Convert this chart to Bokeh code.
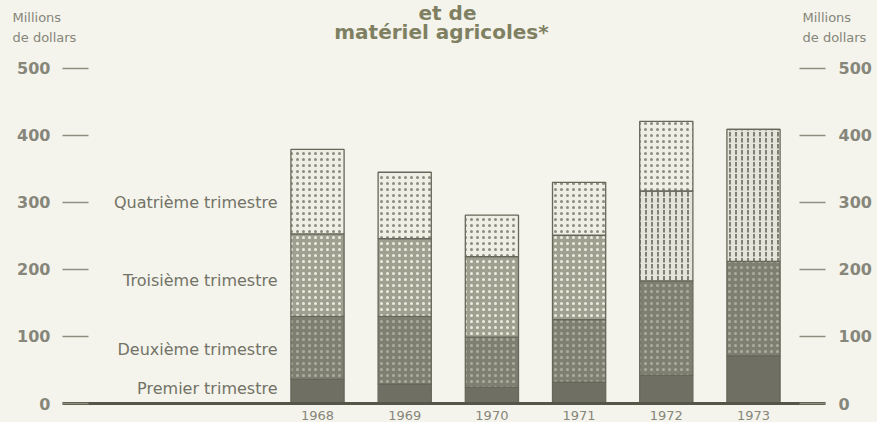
import numpy as np
from bokeh.plotting import figure
from bokeh.layouts import column
from bokeh.models import ColumnDataSource, Range1d, FixedTicker, Label, LinearAxis
from bokeh.core.properties import value
from bokeh.embed import file_html
from bokeh.resources import INLINE

# ---- data (millions of dollars, by quarter) ----
years = [1968, 1969, 1970, 1971, 1972, 1973]
q1 = [36, 29, 24, 32, 42, 71]
q2 = [94, 101, 75, 93, 141, 141]
q3 = [123, 116, 120, 126, 134, 197]
q4 = [126, 99, 62, 79, 104, 0]
y_ticks = [0, 100, 200, 300, 400, 500]
quarter_labels = ["Premier trimestre", "Deuxième trimestre",
                  "Troisième trimestre", "Quatrième trimestre"]
title_lines = ["et de", "matériel agricoles*"]
unit_lines = ["Millions", "de dollars"]

# ---- style ----
BG = "#f4f4ec"
TXT = "#86867a"
TITLE = "#7f8062"
EDGE = "#66665a"
FONT = "DejaVu Sans"

W = 877
TOP_H = 48
H = 422 - TOP_H
LEFT, RIGHT, BOTTOM = 62, 52, 16
PX_PER_UNIT = 0.676
PX_PER_YEAR = 87.2
frame_w = W - LEFT - RIGHT
frame_h = H - BOTTOM
x0 = 1968 - (317 - LEFT) / PX_PER_YEAR
x1 = x0 + frame_w / PX_PER_YEAR
y1 = frame_h / PX_PER_UNIT

# ---- header strip (title and unit captions) ----
top = figure(width=W, height=TOP_H, output_backend="svg", toolbar_location=None,
             x_range=Range1d(0, W), y_range=Range1d(TOP_H, 0),
             min_border=0, x_axis_location=None, y_axis_location=None)
top.frame_align = False
top.background_fill_color = BG
top.border_fill_color = BG
top.outline_line_color = None
top.grid.visible = False
top.text(x=[447], y=[0], text=[title_lines[0]], text_align="center",
         text_baseline="top", text_font=value(FONT), text_font_style="bold",
         text_font_size="20px", text_color=TITLE)
top.text(x=[441], y=[19], text=[title_lines[1]], text_align="center",
         text_baseline="top", text_font=value(FONT), text_font_style="bold",
         text_font_size="20px", text_color=TITLE)
top.text(x=[12, 802], y=[9, 9], text=[unit_lines[0]] * 2, text_align="left",
         text_baseline="top", text_font=value(FONT),
         text_font_size="13px", text_color=TXT)
top.text(x=[12, 802], y=[29, 29], text=[unit_lines[1]] * 2, text_align="left",
         text_baseline="top", text_font=value(FONT),
         text_font_size="13px", text_color=TXT)

# ---- main chart ----
p = figure(width=W, height=H, output_backend="svg", toolbar_location=None,
           x_range=Range1d(x0, x1), y_range=Range1d(0, y1),
           min_border_left=LEFT, min_border_right=RIGHT,
           min_border_top=0, min_border_bottom=BOTTOM,
           y_axis_location=None)
p.frame_align = False
p.background_fill_color = BG
p.border_fill_color = BG
p.outline_line_color = None
p.grid.visible = False


def fx(px):
    return x0 + (px - LEFT) / PX_PER_YEAR


xa = p.xaxis[0]
xa.ticker = FixedTicker(ticks=years)
xa.axis_line_color = "#55554a"
xa.axis_line_width = 3
xa.major_tick_line_color = None
xa.minor_tick_line_color = None
xa.major_label_standoff = 1
xa.major_label_text_font = FONT
xa.major_label_text_font_size = "13px"
xa.major_label_text_color = TXT

for side in ("left", "right"):
    ax = LinearAxis(ticker=FixedTicker(ticks=y_ticks))
    ax.axis_line_color = None
    ax.major_tick_in = 26
    ax.major_tick_out = 0
    ax.major_tick_line_color = "#8e8e80"
    ax.major_tick_line_width = 1.5
    ax.minor_tick_line_color = None
    ax.major_label_standoff = 12 if side == "left" else 13
    ax.major_label_text_font = FONT
    ax.major_label_text_font_style = "bold"
    ax.major_label_text_font_size = "16px"
    ax.major_label_text_color = TXT
    p.add_layout(ax, side)

# ---- stacked bars ----
q = np.array([q1, q2, q3, q4], dtype=float)
cum = np.cumsum(q, axis=0)
bottoms = np.vstack([np.zeros(len(years)), cum[:-1]])

fills = [["#6f6f63"] * 6,
         ["#7e7e71"] * 6,
         ["#a0a091"] * 4 + ["#e4e4da"] * 2,
         ["#eeeee4"] * 6]
hatches = [["blank"] * 6,
           ["dot"] * 6,
           ["dot"] * 4 + ["vertical_dash"] * 2,
           ["dot"] * 6]
hcolors = [["#6f6f63"] * 6,
           ["#adad9f"] * 6,
           ["#ececE2".lower()] * 4 + ["#75756a"] * 2,
           ["#8c8c7e"] * 6]

for i in range(4):
    src = ColumnDataSource(dict(x=years, bottom=bottoms[i], top=cum[i],
                                fill=fills[i], hatch=hatches[i], hc=hcolors[i]))
    p.vbar(x="x", width=0.61, bottom="bottom", top="top", source=src,
           fill_color="fill", hatch_pattern="hatch", hatch_color="hc",
           hatch_scale=6, hatch_weight=1.8,
           line_color=EDGE, line_width=1.3)

# ---- quarter labels ----
label_y = [22, 80, 184, 300]
for txt, yv in zip(quarter_labels, label_y):
    p.add_layout(Label(x=fx(277), y=yv, text=txt, text_align="right",
                       text_baseline="middle", text_font=FONT,
                       text_font_size="16px", text_color="#727266"))

layout = column(top, p, spacing=0, styles={"background-color": BG})
open("out.html", "w").write(file_html(layout, INLINE))
